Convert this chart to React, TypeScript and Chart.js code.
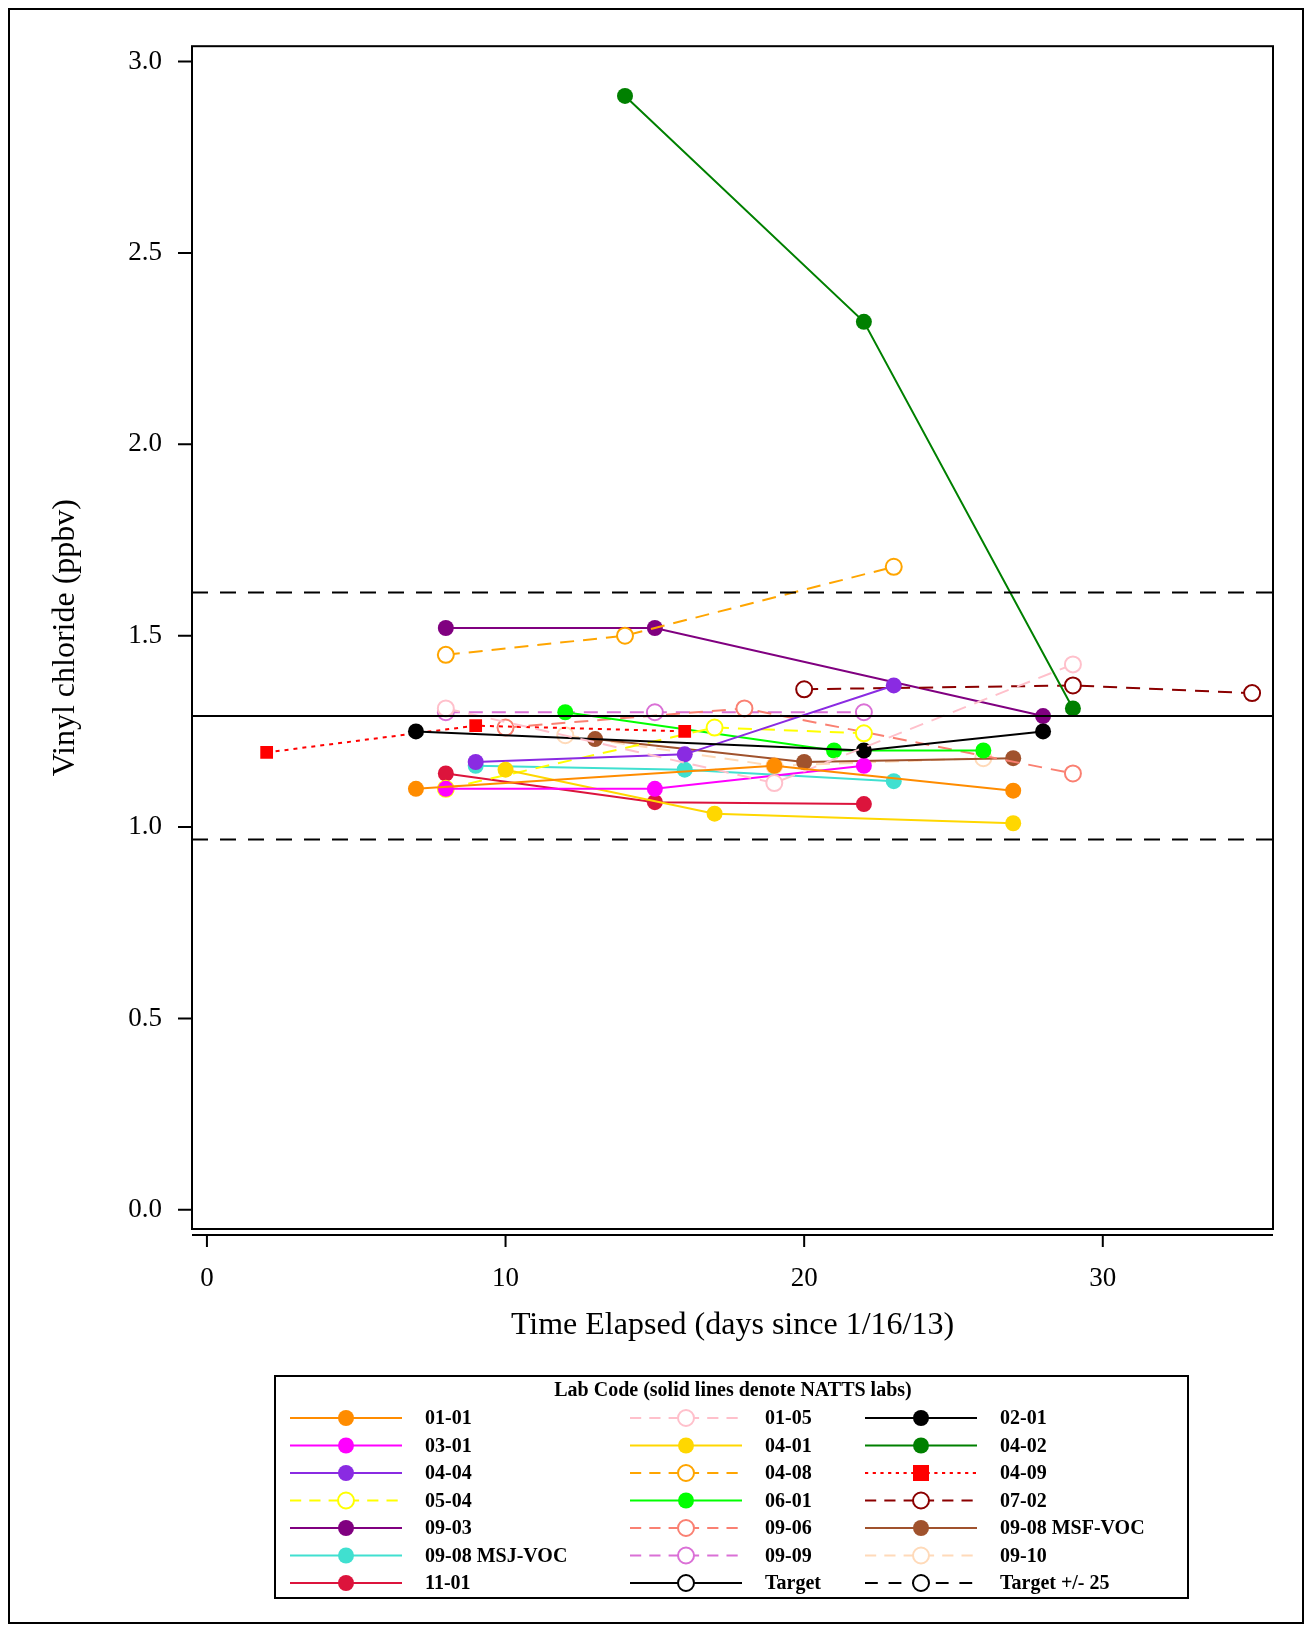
import { useEffect, useRef } from "react"
import { Chart, registerables } from "chart.js"

Chart.register(...registerables)

const TARGET = 1.29
const X_MIN = -0.5
const X_MAX = 35.7
const X_TICKS = [0, 10, 20, 30]
const Y_TICKS = [0, 0.5, 1, 1.5, 2, 2.5, 3]

type Lab = { code: string; color: string; dash: number[]; open: boolean; square?: boolean; x: number[]; y: number[] }

const DASH = [14, 9]

// lab series
const labs: Lab[] = [
  { code: "01-01", color: "#FF8C00", dash: [], open: false, x: [7, 19, 27], y: [1.1, 1.16, 1.095] },
  { code: "01-05", color: "#FFC0CB", dash: DASH, open: true, x: [8, 19, 29], y: [1.31, 1.115, 1.425] },
  { code: "02-01", color: "#000000", dash: [], open: false, x: [7, 22, 28], y: [1.25, 1.2, 1.25] },
  { code: "03-01", color: "#FF00FF", dash: [], open: false, x: [8, 15, 22], y: [1.1, 1.1, 1.16] },
  { code: "04-01", color: "#FFD700", dash: [], open: false, x: [10, 17, 27], y: [1.15, 1.035, 1.01] },
  { code: "04-02", color: "#008000", dash: [], open: false, x: [14, 22, 29], y: [2.91, 2.32, 1.31] },
  { code: "04-04", color: "#8A2BE2", dash: [], open: false, x: [9, 16, 23], y: [1.17, 1.19, 1.37] },
  { code: "04-08", color: "#FFA500", dash: DASH, open: true, x: [8, 14, 23], y: [1.45, 1.5, 1.68] },
  { code: "04-09", color: "#FF0000", dash: [4, 5], open: false, square: true, x: [2, 9, 16], y: [1.195, 1.265, 1.25] },
  { code: "05-04", color: "#FFFF00", dash: DASH, open: true, x: [8, 17, 22], y: [1.1, 1.26, 1.245] },
  { code: "06-01", color: "#00FF00", dash: [], open: false, x: [12, 21, 26], y: [1.3, 1.2, 1.2] },
  { code: "07-02", color: "#8B0000", dash: DASH, open: true, x: [20, 29, 35], y: [1.36, 1.37, 1.35] },
  { code: "09-03", color: "#800080", dash: [], open: false, x: [8, 15, 28], y: [1.52, 1.52, 1.29] },
  { code: "09-06", color: "#FA8072", dash: DASH, open: true, x: [10, 18, 29], y: [1.26, 1.31, 1.14] },
  { code: "09-08 MSF-VOC", color: "#A0522D", dash: [], open: false, x: [13, 20, 27], y: [1.23, 1.17, 1.18] },
  { code: "09-08 MSJ-VOC", color: "#40E0D0", dash: [], open: false, x: [9, 16, 23], y: [1.16, 1.15, 1.12] },
  { code: "09-09", color: "#DA70D6", dash: DASH, open: true, x: [8, 15, 22], y: [1.3, 1.3, 1.3] },
  { code: "09-10", color: "#FFDAB9", dash: DASH, open: true, x: [12, 19, 26], y: [1.24, 1.16, 1.18] },
  { code: "11-01", color: "#DC143C", dash: [], open: false, x: [8, 15, 22], y: [1.14, 1.065, 1.06] },
]

const refLines: Lab[] = [
  { code: "Target", color: "#000000", dash: [], open: true, x: [X_MIN, X_MAX], y: [TARGET, TARGET] },
  { code: "Target +/- 25", color: "#000000", dash: [16, 12], open: true, x: [X_MIN, X_MAX], y: [TARGET * 1.25, TARGET * 1.25] },
  { code: "", color: "#000000", dash: [16, 12], open: true, x: [X_MIN, X_MAX], y: [TARGET * 0.75, TARGET * 0.75] },
]

const legendOrder = [
  "01-01", "01-05", "02-01", "03-01", "04-01", "04-02", "04-04", "04-08", "04-09",
  "05-04", "06-01", "07-02", "09-03", "09-06", "09-08 MSF-VOC", "09-08 MSJ-VOC", "09-09", "09-10",
  "11-01", "Target", "Target +/- 25",
]

const SERIF = "'Liberation Serif', 'Times New Roman', serif"

function drawMarker(ctx: CanvasRenderingContext2D, l: Lab, x: number, y: number) {
  ctx.save()
  ctx.setLineDash([])
  if (l.square) {
    ctx.fillStyle = l.color
    ctx.fillRect(x - 8, y - 8, 16, 16)
  } else {
    ctx.beginPath()
    ctx.arc(x, y, 8, 0, Math.PI * 2)
    if (l.open) {
      ctx.fillStyle = "#fff"
      ctx.fill()
      ctx.lineWidth = 2
      ctx.strokeStyle = l.color
      ctx.stroke()
    } else {
      ctx.fillStyle = l.color
      ctx.fill()
    }
  }
  ctx.restore()
}

const framePlugin = {
  id: "frame",
  afterDraw(chart: Chart) {
    const { ctx, chartArea: a, scales } = chart
    ctx.save()
    ctx.strokeStyle = "#000"
    ctx.lineWidth = 2
    ctx.strokeRect(a.left, a.top, a.right - a.left, a.bottom - a.top)

    // detached x axis line and tick marks
    const ay = a.bottom + 6
    ctx.beginPath()
    ctx.moveTo(a.left, ay)
    ctx.lineTo(a.right, ay)
    X_TICKS.forEach((v) => {
      const px = scales.x.getPixelForValue(v)
      ctx.moveTo(px, ay)
      ctx.lineTo(px, ay + 12)
    })
    Y_TICKS.forEach((v) => {
      const py = scales.y.getPixelForValue(v)
      ctx.moveTo(a.left, py)
      ctx.lineTo(a.left - 14, py)
    })
    ctx.stroke()

    // legend
    const bx = 267, by = 1368, bw = 913, bh = 222
    ctx.strokeRect(bx, by, bw, bh)
    ctx.fillStyle = "#000"
    ctx.font = `bold 20px ${SERIF}`
    ctx.textAlign = "center"
    ctx.textBaseline = "middle"
    ctx.fillText("Lab Code (solid lines denote NATTS labs)", 725, 1383)
    const all = [...labs, ...refLines]
    const cols = [282, 622, 857]
    ctx.textAlign = "left"
    legendOrder.forEach((code, i) => {
      const l = all.find((d) => d.code === code)!
      const cx = cols[i % 3]
      const cy = 1410 + Math.floor(i / 3) * 27.5
      ctx.save()
      ctx.strokeStyle = l.color
      ctx.lineWidth = 2
      ctx.setLineDash(l.dash.length ? [l.dash[0] * 0.8, l.dash[1] * 0.9] : [])
      ctx.beginPath()
      ctx.moveTo(cx, cy)
      ctx.lineTo(cx + 112, cy)
      ctx.stroke()
      ctx.restore()
      drawMarker(ctx, l, cx + 56, cy)
      ctx.fillStyle = "#000"
      ctx.fillText(code, cx + 135, cy + 1)
    })
    ctx.restore()
  },
}

export default function App() {
  const ref = useRef<HTMLCanvasElement>(null)

  useEffect(() => {
    if (!ref.current) return
    const mk = (l: Lab, points: boolean) => ({
      label: l.code,
      data: l.x.map((x, i) => ({ x, y: l.y[i] })),
      showLine: true,
      borderColor: l.color,
      backgroundColor: l.open ? "#ffffff" : l.color,
      borderWidth: 2,
      borderDash: l.dash,
      pointStyle: l.square ? "rect" : "circle",
      pointRadius: points ? (l.square ? 9 : 8) : 0,
      pointBorderColor: l.color,
      pointBorderWidth: l.open ? 2 : 0,
      pointBackgroundColor: l.open ? "#ffffff" : l.color,
    })
    const chart = new Chart(ref.current, {
      type: "scatter",
      data: {
        datasets: [...refLines.map((l) => mk(l, false)), ...labs.map((l) => mk(l, true))] as any,
      },
      options: {
        animation: false,
        responsive: false,
        layout: { padding: { top: 36, right: 31, bottom: 275, left: 34 } },
        plugins: { legend: { display: false }, tooltip: { enabled: false } },
        scales: {
          x: {
            type: "linear",
            min: X_MIN,
            max: X_MAX,
            afterBuildTicks: (s: any) => { s.ticks = X_TICKS.map((v) => ({ value: v })) },
            grid: { display: false },
            border: { display: false },
            ticks: { color: "#000", font: { family: SERIF, size: 27 }, padding: 26 },
            title: { display: true, text: "Time Elapsed (days since 1/16/13)", color: "#000", font: { family: SERIF, size: 32 }, padding: { top: 28 } },
            afterFit: (s: any) => { s.height = 120 },
          },
          y: {
            min: -0.05,
            max: 3.04,
            afterBuildTicks: (s: any) => { s.ticks = Y_TICKS.map((v) => ({ value: v })) },
            grid: { display: false },
            border: { display: false },
            ticks: { color: "#000", font: { family: SERIF, size: 27 }, padding: 22, callback: (v: any) => Number(v).toFixed(1) },
            title: { display: true, text: "Vinyl chloride (ppbv)", color: "#000", font: { family: SERIF, size: 32 }, padding: { bottom: 16 } },
            afterFit: (s: any) => { s.width = 150 },
          },
        },
      },
      plugins: [framePlugin],
    })
    return () => chart.destroy()
  }, [])

  return (
    <div style={{ width: 1296, height: 1616, position: "relative" }}>
      <canvas ref={ref} width={1296} height={1616} style={{ display: "block" }} />
      <div style={{ position: "absolute", left: 0, top: 0, width: 1296, height: 1616, boxSizing: "border-box", border: "2px solid #000", pointerEvents: "none" }} />
    </div>
  )
}
